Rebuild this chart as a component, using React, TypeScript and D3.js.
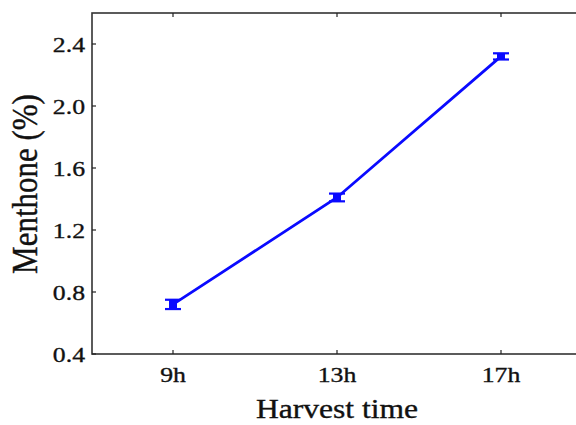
import React from "react";
import * as d3 from "d3";

const categories = ["9h", "13h", "17h"];
const values = [0.72, 1.41, 2.32];
const errors = [0.03, 0.025, 0.02];
const yTicks = [0.4, 0.8, 1.2, 1.6, 2.0, 2.4];

export default function App() {
  const W = 576, H = 425;
  const left = 92, top = 13, bottom = 354;
  const step = 164;
  const x = d3.scalePoint<string>().domain(categories).range([173, 173 + 2 * step]);
  const y = d3.scaleLinear().domain([0.4, 2.6]).range([bottom, top]);
  const right = 173 + 2.5 * step;
  const line = d3.line<number>().x((_, i) => x(categories[i])!).y(d => y(d));
  const font = "'Liberation Serif', 'Times New Roman', serif";
  const sx = 1.17;
  const txt = { fontFamily: font, fill: "#111", stroke: "#111", strokeWidth: 0.35 };
  return (
    <svg width={W} height={H} style={{ position: "absolute", left: 0, top: 0, background: "#fff" }}>
      <rect x={left} y={top} width={right - left} height={bottom - top} fill="none" stroke="#333" strokeWidth={1.6} />
      {yTicks.map(t => (
        <g key={t}>
          <line x1={left} x2={left + 4} y1={y(t)} y2={y(t)} stroke="#222" strokeWidth={1.2} />
          <text transform={`translate(${left - 7},${y(t)}) scale(${sx},1)`} dy="0.35em" textAnchor="end" fontSize={22} {...txt}>{t.toFixed(1)}</text>
        </g>
      ))}
      {categories.map(c => (
        <g key={c}>
          <line x1={x(c)} x2={x(c)} y1={bottom} y2={bottom - 4} stroke="#222" strokeWidth={1.2} />
          <line x1={x(c)} x2={x(c)} y1={top} y2={top + 4} stroke="#222" strokeWidth={1.2} />
          <text transform={`translate(${x(c)},${bottom + 28}) scale(${sx},1)`} textAnchor="middle" fontSize={22} {...txt}>{c}</text>
        </g>
      ))}
      <path d={line(values)!} fill="none" stroke="#0a0aff" strokeWidth={2.8} />
      {values.map((v, i) => {
        const cx = x(categories[i])!;
        return (
          <g key={i} stroke="#0a0aff" fill="#0a0aff">
            <line x1={cx} x2={cx} y1={y(v - errors[i])} y2={y(v + errors[i])} strokeWidth={8} />
            <line x1={cx - 8} x2={cx + 8} y1={y(v - errors[i])} y2={y(v - errors[i])} strokeWidth={2.2} />
            <line x1={cx - 8} x2={cx + 8} y1={y(v + errors[i])} y2={y(v + errors[i])} strokeWidth={2.2} />
          </g>
        );
      })}
      <text transform={`translate(337,418) scale(${sx},1)`} textAnchor="middle" fontSize={27} {...txt}>Harvest time</text>
      <text transform={`translate(37,184) rotate(-90) scale(1,${sx})`} textAnchor="middle" fontSize={31} {...txt}>Menthone (%)</text>
    </svg>
  );
}
